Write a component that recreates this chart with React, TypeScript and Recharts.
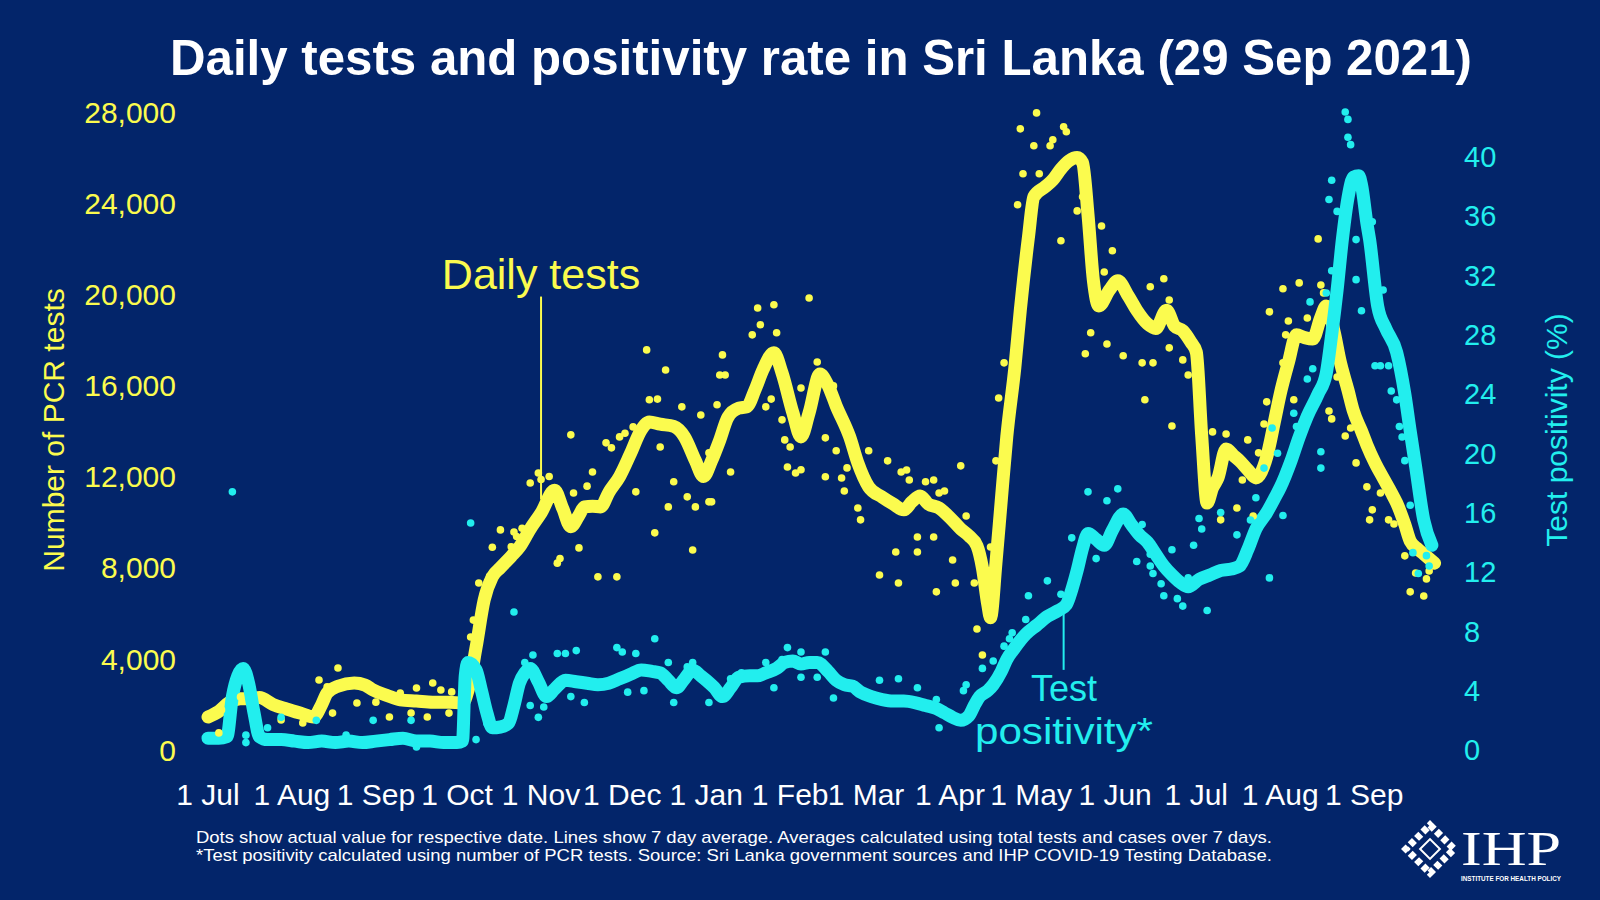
import { ComposedChart, Line, Scatter, XAxis, YAxis, ReferenceLine } from "recharts"

const BG = "#03256a"
const YELLOW = "#fbfb4e"
const CYAN = "#22eeee"
const FONT = "'Liberation Sans', Arial, Helvetica, sans-serif"

// days counted from 1 Jul 2020
const monthTicks = [0, 31, 62, 92, 123, 153, 184, 215, 243, 274, 304, 335, 365, 396, 427]
const monthLabels = ["1 Jul", "1 Aug", "1 Sep", "1 Oct", "1 Nov", "1 Dec", "1 Jan", "1 Feb", "1 Mar", "1 Apr", "1 May", "1 Jun", "1 Jul", "1 Aug", "1 Sep"]
const testTicks = [0, 4000, 8000, 12000, 16000, 20000, 24000, 28000]
const posTicks = [0, 4, 8, 12, 16, 20, 24, 28, 32, 36, 40]

// 7 day average of PCR tests [day, tests]
const testsAvg: [number, number][] = [
  [0, 1450], [4, 1700], [8, 2100], [12, 2250], [16, 2250], [19, 2300], [24, 2000], [29, 1800], [34, 1620], [39, 1450],
  [42, 2000], [44, 2500], [48, 2800], [54, 2940], [58, 2850], [61, 2630], [66, 2400], [71, 2200], [77, 2150], [83, 2100],
  [89, 2100], [94, 2060], [96, 2600], [99, 4500], [102, 6590], [105, 7600], [108, 8000], [112, 8500], [115, 8900], [119, 9700],
  [123, 10400], [128, 11400], [131, 10600], [134, 9800], [137, 10300], [139, 10670], [142, 10700], [145, 10670], [148, 11300], [152, 12000],
  [156, 13000], [160, 14050], [163, 14400], [167, 14300], [172, 14200], [176, 13740], [180, 12700], [183, 12000], [186, 12700], [189, 13600],
  [192, 14600], [196, 15000], [199, 15060], [202, 15800], [205, 16700], [209, 17430], [212, 16550], [216, 14800], [219, 13740], [222, 14800],
  [226, 16500], [229, 16000], [232, 15100], [237, 13740], [240, 12600], [244, 11550], [249, 11100], [253, 10800], [257, 10540], [260, 10900],
  [263, 11150], [266, 10800], [270, 10620], [274, 10200], [278, 9700], [281, 9400], [284, 8960], [286, 8000], [288, 6370], [289, 5800],
  [291, 8200], [293, 11000], [295, 13740], [298, 16800], [300, 19300], [303, 22500], [305, 24280], [309, 24700], [312, 25020], [315, 25500],
  [318, 25860], [321, 26000], [323, 25770], [325, 23500], [327, 20590], [329, 19490], [333, 20200], [336, 20590], [340, 19900], [343, 19300],
  [347, 18700], [350, 18500], [354, 19300], [357, 18600], [360, 18400], [363, 17900], [365, 17470], [367, 13780], [369, 10840], [371, 11500],
  [373, 11940], [376, 13210], [379, 12900], [381, 12690], [384, 12300], [387, 11940], [391, 12860], [394, 14500], [396, 15630], [399, 17000],
  [402, 18220], [405, 18100], [408, 18040], [411, 19000], [413, 19490], [416, 18300], [418, 17120], [421, 15800], [423, 14880], [426, 14000],
  [428, 13390], [431, 12600], [434, 11940], [437, 11300], [439, 10840], [442, 9900], [444, 9170], [447, 8800], [449, 8600], [453, 8200],
]

// 7 day average test positivity [day, %]
const posAvg: [number, number][] = [
  [0, 0.8], [4, 0.8], [7, 0.9], [9, 3.6], [11, 5.0], [13, 5.5], [15, 4.5], [17, 2.5], [19, 0.9], [22, 0.7],
  [27, 0.7], [32, 0.6], [37, 0.5], [42, 0.6], [47, 0.5], [52, 0.6], [57, 0.5], [62, 0.6], [67, 0.7], [72, 0.8],
  [77, 0.6], [82, 0.6], [87, 0.5], [92, 0.5], [94, 0.6], [95, 5.0], [96, 5.9], [99, 5.4], [101, 4.0], [103, 2.5],
  [105, 1.5], [108, 1.55], [111, 1.8], [113, 3.0], [115, 4.5], [117, 5.2], [119, 5.5], [122, 4.6], [125, 3.6], [128, 4.1],
  [132, 4.7], [136, 4.6], [140, 4.5], [144, 4.4], [148, 4.5], [152, 4.8], [156, 5.1], [160, 5.4], [164, 5.3], [167, 5.2],
  [170, 4.7], [173, 4.2], [176, 4.8], [179, 5.4], [182, 5.0], [184, 4.7], [187, 4.2], [190, 3.6], [193, 4.2], [196, 4.9],
  [200, 5.0], [203, 5.0], [206, 5.2], [210, 5.5], [213, 5.9], [216, 6.0], [219, 5.8], [222, 5.9], [225, 5.9], [229, 5.3],
  [232, 4.7], [235, 4.4], [238, 4.3], [241, 3.9], [245, 3.6], [249, 3.4], [253, 3.3], [257, 3.3], [261, 3.2], [265, 3.0],
  [269, 2.8], [272, 2.5], [275, 2.2], [278, 2.0], [281, 2.3], [283, 3.0], [285, 3.6], [288, 4.0], [290, 4.4], [293, 5.3],
  [295, 6.1], [298, 6.9], [302, 7.8], [306, 8.4], [310, 9.0], [314, 9.4], [317, 9.8], [319, 10.8], [321, 12.1], [323, 13.6],
  [325, 14.6], [328, 14.2], [331, 13.8], [334, 14.8], [338, 15.9], [341, 15.2], [344, 14.5], [347, 14.0], [350, 13.2], [353, 12.4],
  [356, 11.8], [359, 11.3], [362, 11.0], [366, 11.5], [370, 11.8], [374, 12.1], [378, 12.2], [381, 12.4], [384, 13.5], [387, 14.9],
  [391, 16.0], [394, 17.0], [396, 17.7], [400, 19.5], [403, 21.1], [406, 22.5], [410, 24.0], [413, 25.4], [415, 28.0], [417, 31.0],
  [419, 34.5], [421, 37.2], [423, 38.6], [425, 38.7], [426, 38.1], [428, 35.5], [429, 34.4], [432, 29.9], [435, 28.4], [439, 26.8],
  [442, 24.0], [444, 21.5], [446, 19.1], [449, 15.5], [452, 13.8],
]

// daily values (dots) [day, tests]
const testsDaily: [number, number][] = [
  [4, 750], [5, 1760], [12, 2330], [27, 1320], [35, 1190], [41, 3070], [44, 2770], [46, 1620], [48, 3600], [55, 2060],
  [62, 2100], [67, 1450], [71, 2500], [75, 1620], [77, 2720], [81, 1450], [83, 2940], [86, 2630], [89, 1620], [90, 2550],
  [97, 4960], [98, 5700], [100, 7330], [104, 7620], [105, 8900], [108, 9660], [112, 8920], [113, 9570], [114, 9370], [116, 9730],
  [119, 11720], [122, 12160], [123, 11870], [126, 12000], [129, 8200], [130, 8400], [134, 13830], [135, 11280], [137, 8870], [140, 11580],
  [142, 12200], [144, 7600], [147, 13480], [149, 13260], [151, 7600], [152, 13740], [154, 13900], [157, 14180], [158, 11330], [162, 17560],
  [163, 15370], [165, 9530], [166, 15400], [167, 13300], [169, 16680], [170, 10670], [172, 11770], [175, 15060], [177, 11110], [179, 8780],
  [180, 10670], [182, 14700], [185, 13040], [185, 10890], [186, 10890], [188, 15150], [189, 16460], [190, 17340], [191, 16460], [193, 12200],
  [201, 18220], [203, 19400], [204, 18660], [206, 15060], [208, 15400], [209, 19540], [210, 18310], [212, 14490], [213, 13610], [214, 12420],
  [215, 13300], [217, 12160], [219, 12300], [219, 15890], [222, 19840], [225, 17030], [228, 11990], [228, 13700], [231, 15980], [232, 13130],
  [234, 11940], [235, 11370], [236, 12380], [240, 10620], [241, 10100], [244, 13130], [248, 7680], [251, 12690], [254, 8690], [255, 7330],
  [256, 12200], [258, 12290], [259, 11850], [262, 9350], [262, 8690], [265, 11770], [268, 11850], [268, 9350], [269, 6940], [270, 11280],
  [272, 11370], [275, 8340], [276, 7330], [278, 12470], [280, 10270], [283, 7330], [284, 5310], [286, 4170], [289, 8910], [291, 12690],
  [292, 15450], [294, 16990], [299, 23930], [300, 27260], [301, 25290], [305, 26520], [306, 27960], [307, 25290], [311, 26520], [312, 26780],
  [315, 22350], [316, 27350], [317, 27130], [321, 23660], [323, 24280], [324, 17390], [326, 18310], [330, 23000], [331, 20980], [332, 17820],
  [334, 21910], [338, 17300], [345, 16990], [346, 15370], [348, 20330], [349, 16990], [353, 20680], [355, 19750], [355, 17650], [356, 14220],
  [360, 17120], [362, 16460], [371, 13960], [374, 10100], [376, 13870], [380, 10620], [382, 11850], [384, 13610], [386, 10270], [388, 13040],
  [390, 14310], [391, 15280], [392, 19230], [397, 16990], [397, 20240], [398, 18220], [399, 18830], [401, 15370], [403, 20500], [406, 18960],
  [410, 22430], [411, 20410], [412, 20060], [414, 14880], [415, 14530], [417, 16370], [420, 13780], [422, 14130], [424, 12600], [428, 11550],
  [429, 10100], [430, 10540], [433, 11280], [436, 10100], [438, 9920], [442, 8520], [444, 6940], [446, 7770], [449, 6760], [450, 7510],
  [451, 7860], [452, 8250],
]

// daily values (dots) [day, %]
const posDaily: [number, number][] = [
  [9, 17.4], [14, 1.0], [14, 0.5], [22, 1.5], [27, 2.2], [40, 2.0], [51, 1.0], [61, 2.0], [75, 2.0], [77, 0.2],
  [97, 15.3], [99, 0.7], [103, 1.8], [113, 9.3], [117, 5.9], [119, 3.0], [120, 6.4], [122, 2.2], [124, 2.9], [129, 6.5],
  [132, 6.5], [134, 3.6], [136, 6.7], [139, 3.2], [151, 6.9], [153, 6.6], [155, 3.9], [158, 6.5], [161, 4.0], [165, 7.5],
  [170, 5.9], [172, 3.2], [177, 5.6], [179, 5.9], [185, 3.2], [193, 4.8], [197, 5.2], [206, 5.9], [209, 4.2], [212, 6.1],
  [214, 6.9], [219, 6.6], [219, 4.9], [225, 4.9], [228, 6.6], [231, 3.5], [248, 4.7], [255, 4.8], [262, 4.2], [269, 3.4],
  [270, 1.5], [279, 4.0], [280, 4.4], [286, 5.5], [290, 6.0], [294, 7.0], [296, 7.5], [297, 7.9], [302, 8.8], [303, 10.4],
  [310, 11.4], [315, 10.5], [319, 14.3], [325, 17.4], [328, 12.9], [332, 16.8], [336, 17.6], [343, 12.7], [345, 15.2], [346, 14.3],
  [348, 13.2], [348, 12.4], [349, 11.9], [352, 11.2], [353, 10.4], [356, 13.5], [358, 10.2], [360, 9.7], [362, 11.6], [364, 13.8],
  [366, 15.6], [367, 14.9], [369, 9.4], [374, 16.0], [380, 14.5], [385, 15.5], [387, 17.0], [390, 19.0], [392, 11.6], [393, 21.7],
  [395, 20.0], [397, 15.8], [401, 22.7], [402, 21.8], [406, 25.0], [407, 30.2], [408, 25.7], [411, 19.0], [411, 20.1], [413, 30.8],
  [414, 37.1], [415, 38.4], [415, 32.3], [417, 36.3], [420, 43.0], [421, 42.5], [421, 41.3], [422, 40.8], [424, 34.4], [424, 31.7],
  [426, 29.6], [430, 35.6], [431, 25.9], [433, 25.9], [434, 31.0], [436, 25.9], [437, 24.2], [439, 23.6], [440, 21.8], [441, 21.1],
  [442, 19.5], [444, 16.5], [445, 13.3], [447, 11.9], [450, 13.1], [451, 12.4],
]

const toRows = (arr: [number, number][]) => arr.map(([day, v]) => ({ day, v }))

const dot = (color: string) => (p: any) => <circle cx={p.cx} cy={p.cy} r={3.8} fill={color} />

export default function App() {
  return (
    <div style={{ position: "absolute", left: 0, top: 0, width: 1600, height: 900, background: BG, fontFamily: FONT }}>
      <ComposedChart width={1600} height={900} margin={{ top: 112, right: 60, bottom: 100, left: 108 }}>
        <XAxis
          type="number"
          dataKey="day"
          domain={[0, 455]}
          ticks={monthTicks}
          tickFormatter={(d) => monthLabels[monthTicks.indexOf(d)]}
          axisLine={false}
          tickLine={false}
          tickSize={0}
          tickMargin={34}
          height={50}
          interval={0}
          tick={{ fill: "#ffffff", fontSize: 30, fontFamily: FONT }}
        />
        <YAxis
          yAxisId="tests"
          domain={[0, 28000]}
          ticks={testTicks}
          tickFormatter={(v) => v.toLocaleString("en-US")}
          axisLine={false}
          tickLine={false}
          tickSize={0}
          tickMargin={32}
          width={100}
          interval={0}
          tick={{ fill: YELLOW, fontSize: 30, fontFamily: FONT }}
        />
        <YAxis
          yAxisId="pos"
          orientation="right"
          domain={[0, 43]}
          ticks={posTicks}
          axisLine={false}
          tickLine={false}
          tickSize={0}
          tickMargin={24}
          width={100}
          interval={0}
          tick={{ fill: CYAN, fontSize: 29, fontFamily: FONT, textAnchor: "start" }}
        />
        <Line
          yAxisId="tests"
          data={toRows(testsAvg)}
          dataKey="v"
          type="monotone"
          stroke={YELLOW}
          strokeWidth={13}
          strokeLinecap="round"
          strokeLinejoin="round"
          dot={false}
          isAnimationActive={false}
        />
        <Scatter yAxisId="tests" data={toRows(testsDaily)} dataKey="v" shape={dot(YELLOW)} isAnimationActive={false} />
        <Line
          yAxisId="pos"
          data={toRows(posAvg)}
          dataKey="v"
          type="monotone"
          stroke={CYAN}
          strokeWidth={13}
          strokeLinecap="round"
          strokeLinejoin="round"
          dot={false}
          isAnimationActive={false}
        />
        <Scatter yAxisId="pos" data={toRows(posDaily)} dataKey="v" shape={dot(CYAN)} isAnimationActive={false} />
        <ReferenceLine yAxisId="tests" segment={[{ x: 123, y: 19900 }, { x: 123, y: 11000 }]} stroke={YELLOW} strokeWidth={2} />
        <ReferenceLine yAxisId="pos" segment={[{ x: 316, y: 9.3 }, { x: 316, y: 5.4 }]} stroke={CYAN} strokeWidth={2} />
      </ComposedChart>

      <svg width={1600} height={900} style={{ position: "absolute", left: 0, top: 0, pointerEvents: "none" }} fontFamily={FONT}>
        <text x={821} y={75} fill="#ffffff" fontSize={50} fontWeight="bold" textAnchor="middle" textLength={1302} lengthAdjust="spacingAndGlyphs">
          Daily tests and positivity rate in Sri Lanka (29 Sep 2021)
        </text>
        <text transform="translate(53,430) rotate(-90)" fill={YELLOW} fontSize={30} textAnchor="middle" dominantBaseline="central">
          Number of PCR tests
        </text>
        <text transform="translate(1556,430) rotate(-90)" fill={CYAN} fontSize={30} textAnchor="middle" dominantBaseline="central">
          Test positivity (%)
        </text>
        <text x={541} y={289} fill={YELLOW} fontSize={43} textAnchor="middle">Daily tests</text>
        <text x={1064} y={701} fill={CYAN} fontSize={36} textAnchor="middle">Test</text>
        <text x={1064} y={744} fill={CYAN} fontSize={36} textAnchor="middle" textLength={178} lengthAdjust="spacingAndGlyphs">positivity*</text>
        <text x={196} y={843} fill="#ffffff" fontSize={17} textLength={1076} lengthAdjust="spacingAndGlyphs">
          Dots show actual value for respective date. Lines show 7 day average. Averages calculated using total tests and cases over 7 days.
        </text>
        <text x={196} y={861} fill="#ffffff" fontSize={17} textLength={1076} lengthAdjust="spacingAndGlyphs">
          *Test positivity calculated using number of PCR tests. Source: Sri Lanka government sources and IHP COVID-19 Testing Database.
        </text>
        <g transform="translate(1430,849) rotate(45)" fill="none" stroke="#ffffff">
          <rect x={-17} y={-17} width={34} height={34} strokeWidth={7} strokeDasharray="6 3" />
          <rect x={-7} y={-7} width={14} height={14} strokeWidth={2} />
        </g>
        <text x={1461} y={865} fill="#ffffff" fontSize={48} fontFamily="'Liberation Serif', 'DejaVu Serif', serif" textLength={100} lengthAdjust="spacingAndGlyphs">
          IHP
        </text>
        <text x={1461} y={881} fill="#ffffff" fontSize={7.5} fontWeight="bold" textLength={100} lengthAdjust="spacingAndGlyphs">
          INSTITUTE FOR HEALTH POLICY
        </text>
      </svg>
    </div>
  )
}
